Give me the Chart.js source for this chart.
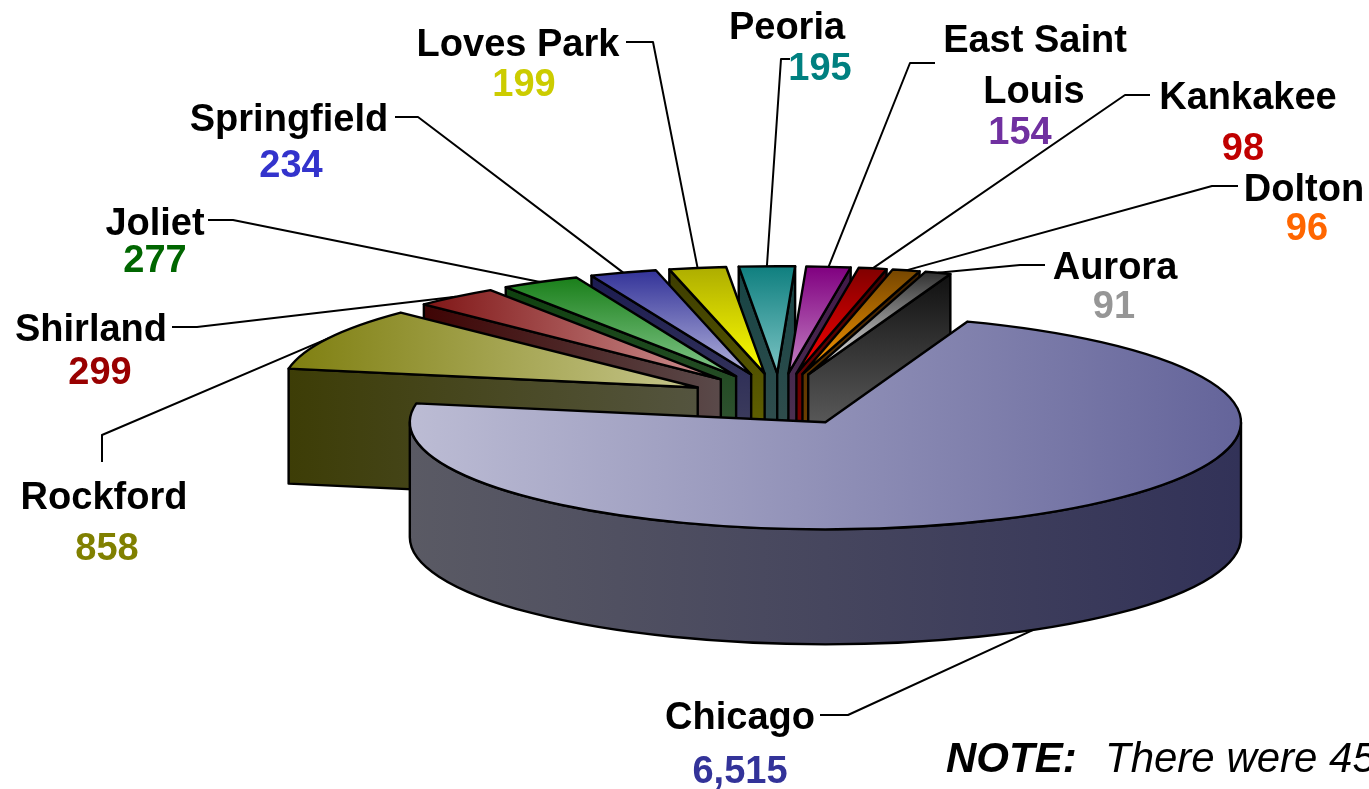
<!DOCTYPE html>
<html lang="en">
<head>
    <meta charset="UTF-8">
    <title>Illinois cities</title>
    <script src="https://cdn.jsdelivr.net/npm/chart.js"></script>
    <style>
        html, body { margin: 0; padding: 0; background: #fff; overflow: hidden; }
        #wrap { width: 1369px; height: 789px; }
    </style>
</head>
<body>
<div id="wrap"><canvas id="cityPie"></canvas></div>
<script>
    const cities = ["Chicago", "Rockford", "Shirland", "Joliet", "Springfield", "Loves Park",
        "Peoria", ["East Saint", "Louis"], "Kankakee", "Dolton", "Aurora"];
    const counts = [6515, 858, 299, 277, 234, 199, 195, 154, 98, 96, 91];

    const valueColors = ["#333399", "#808000", "#990000", "#006600", "#3333cc", "#cccc00",
        "#008080", "#7030a0", "#c00000", "#ff6600", "#969696"];
    // gradient ends: top face, then side walls
    const topFrom = ["#bcbcd4", "#7f7f10", "#7f1515", "#1a7f1a", "#333399", "#adad00",
        "#0f7f7f", "#800080", "#800000", "#754600", "#303030"];
    const topTo = ["#64649a", "#c6c68c", "#cf9494", "#84c88c", "#b4b4dc", "#ffff00",
        "#7cc4c4", "#c482c4", "#ff0000", "#ff9900", "#f4f4f4"];
    const wallFrom = ["#5a5a64", "#3d3d06", "#3f0404", "#0c3f0c", "#1a1a50", "#3b3b00",
        "#164444", "#401848", "#400000", "#3f2000", "#0f0f0f"];
    const wallTo = ["#323258", "#54543f", "#5a4a4a", "#3f5a40", "#4a4a62", "#6e6e00",
        "#3a5050", "#503a54", "#900000", "#804c00", "#787878"];
    const shadeAxis = ["x", "x", "x", "y", "y", "y", "y", "y", "y", "y", "y"];

    // where the texts sit: name lines, value, then the elbow of the leader line
    const textSpots = [
        { name: [[740, 729]], value: [740, 783], leader: [[820, 715], [848, 715]] },
        { name: [[104, 509]], value: [107, 560], leader: [[102, 462], [102, 435]] },
        { name: [[91, 341]], value: [100, 384], leader: [[172, 327], [197, 327]] },
        { name: [[155, 235]], value: [155, 272], leader: [[208, 220], [233, 220]] },
        { name: [[289, 131]], value: [291, 177], leader: [[395, 117], [418, 117]] },
        { name: [[518, 56]], value: [524, 96], leader: [[626, 42], [653, 42]] },
        { name: [[787, 39]], value: [820, 80], leader: [[790, 59], [781, 59]] },
        { name: [[1035, 52], [1034, 103]], value: [1020, 144], leader: [[935, 63], [910, 63]] },
        { name: [[1248, 109]], value: [1243, 160], leader: [[1150, 95], [1125, 95]] },
        { name: [[1304, 201]], value: [1307, 240], leader: [[1238, 186], [1212, 186]] },
        { name: [[1115, 279]], value: [1114, 318], leader: [[1045, 265], [1020, 265]] }
    ];

    // 3D look: the library lays out the arcs, this plugin tilts and extrudes them
    const pie3d = {
        id: "pie3d",
        beforeDatasetsDraw(chart, args, opts) {
            const ctx = chart.ctx;
            const slices = chart.getDatasetMeta(0).data.map((arc, i) => makeSlice(arc, i, opts));

            ctx.save();
            ctx.lineJoin = "round";
            ctx.strokeStyle = "#000";
            slices.forEach((s) => drawLeader(ctx, s, opts));
            slices.slice().sort((a, b) => Math.sin(a.mid) - Math.sin(b.mid))
                .forEach((s) => drawSlice(ctx, s, opts));
            slices.forEach((s) => drawTexts(ctx, s));
            drawNote(ctx);
            ctx.restore();
            return false;
        }
    };

    function makeSlice(arc, i, opts) {
        const rx = arc.outerRadius * opts.stretchX;
        const ry = arc.outerRadius * opts.stretchY;
        const mid = (arc.startAngle + arc.endAngle) / 2;
        const x = arc.x + Math.cos(mid) * opts.explode;
        const y = arc.y + Math.sin(mid) * opts.explode * opts.explodeTilt;
        const rim = (a) => [x + Math.cos(a) * rx, y + Math.sin(a) * ry];

        // bounding box, used for the gradient ends
        const pts = [[x, y]];
        for (let a = arc.startAngle; a < arc.endAngle; a += 0.03) pts.push(rim(a));
        pts.push(rim(arc.endAngle));
        const xs = pts.map((p) => p[0]);
        const ys = pts.map((p) => p[1]);
        return {
            i, x, y, rx, ry, mid, rim,
            start: arc.startAngle, end: arc.endAngle,
            minX: Math.min(...xs), maxX: Math.max(...xs),
            minY: Math.min(...ys), maxY: Math.max(...ys)
        };
    }

    function shade(ctx, s, from, to, extra) {
        const g = shadeAxis[s.i] === "x"
            ? ctx.createLinearGradient(s.minX, 0, s.maxX, 0)
            : ctx.createLinearGradient(0, s.minY, 0, s.maxY + extra);
        g.addColorStop(0, from[s.i]);
        g.addColorStop(1, to[s.i]);
        return g;
    }

    function drawSlice(ctx, s, opts) {
        const d = opts.depth;
        ctx.lineWidth = 2.4;
        ctx.fillStyle = shade(ctx, s, wallFrom, wallTo, d);

        // the two cut faces, only when they look toward the viewer
        const face = (a) => {
            const p = s.rim(a);
            ctx.beginPath();
            ctx.moveTo(s.x, s.y);
            ctx.lineTo(p[0], p[1]);
            ctx.lineTo(p[0], p[1] + d);
            ctx.lineTo(s.x, s.y + d);
            ctx.closePath();
            ctx.fill();
            ctx.stroke();
        };
        if (Math.sin(s.start - Math.PI / 2) > 0) face(s.start);
        if (Math.sin(s.end + Math.PI / 2) > 0) face(s.end);

        // outer wall, front half of the ellipse only
        const a0 = Math.max(s.start, 0);
        const a1 = Math.min(s.end, Math.PI);
        if (a1 > a0) {
            ctx.beginPath();
            ctx.ellipse(s.x, s.y, s.rx, s.ry, 0, a0, a1);
            ctx.ellipse(s.x, s.y + d, s.rx, s.ry, 0, a1, a0, true);
            ctx.closePath();
            ctx.fill();
            ctx.stroke();
        }

        ctx.fillStyle = shade(ctx, s, topFrom, topTo, 0);
        ctx.beginPath();
        ctx.moveTo(s.x, s.y);
        ctx.ellipse(s.x, s.y, s.rx, s.ry, 0, s.start, s.end);
        ctx.closePath();
        ctx.fill();
        ctx.stroke();
    }

    function drawLeader(ctx, s, opts) {
        const p = s.rim(s.mid);
        const front = Math.sin(s.mid) > 0.3 ? opts.depth : 0;
        const elbow = textSpots[s.i].leader;
        ctx.lineWidth = 2;
        ctx.beginPath();
        ctx.moveTo(elbow[0][0], elbow[0][1]);
        ctx.lineTo(elbow[1][0], elbow[1][1]);
        ctx.lineTo(p[0], p[1] + front);
        ctx.stroke();
    }

    function drawTexts(ctx, s) {
        const spot = textSpots[s.i];
        const lines = [].concat(cities[s.i]);
        ctx.font = "bold 38px 'Liberation Sans', Arial, sans-serif";
        ctx.textAlign = "center";
        ctx.textBaseline = "alphabetic";
        ctx.fillStyle = "#000";
        lines.forEach((line, k) => ctx.fillText(line, spot.name[k][0], spot.name[k][1]));
        ctx.fillStyle = valueColors[s.i];
        ctx.fillText(counts[s.i].toLocaleString("en-US"), spot.value[0], spot.value[1]);
    }

    function drawNote(ctx) {
        ctx.fillStyle = "#000";
        ctx.textAlign = "left";
        ctx.font = "italic bold 42px 'Liberation Sans', Arial, sans-serif";
        ctx.fillText("NOTE:", 946, 772);
        ctx.font = "italic 42px 'Liberation Sans', Arial, sans-serif";
        ctx.fillText("There were 45", 1105, 772);
    }

    new Chart(document.getElementById("cityPie"), {
        type: "pie",
        data: {
            labels: cities,
            datasets: [{ data: counts, rotation: 20, backgroundColor: topFrom, borderWidth: 0 }]
        },
        options: {
            responsive: true,
            maintainAspectRatio: false,
            animation: false,
            layout: { padding: { left: 190, top: 10 } },
            plugins: {
                legend: { display: false },
                tooltip: { enabled: false },
                pie3d: { stretchX: 1.067, stretchY: 0.275, explode: 92, explodeTilt: 0.285, depth: 115 }
            }
        },
        plugins: [pie3d]
    });
</script>
</body>
</html>
